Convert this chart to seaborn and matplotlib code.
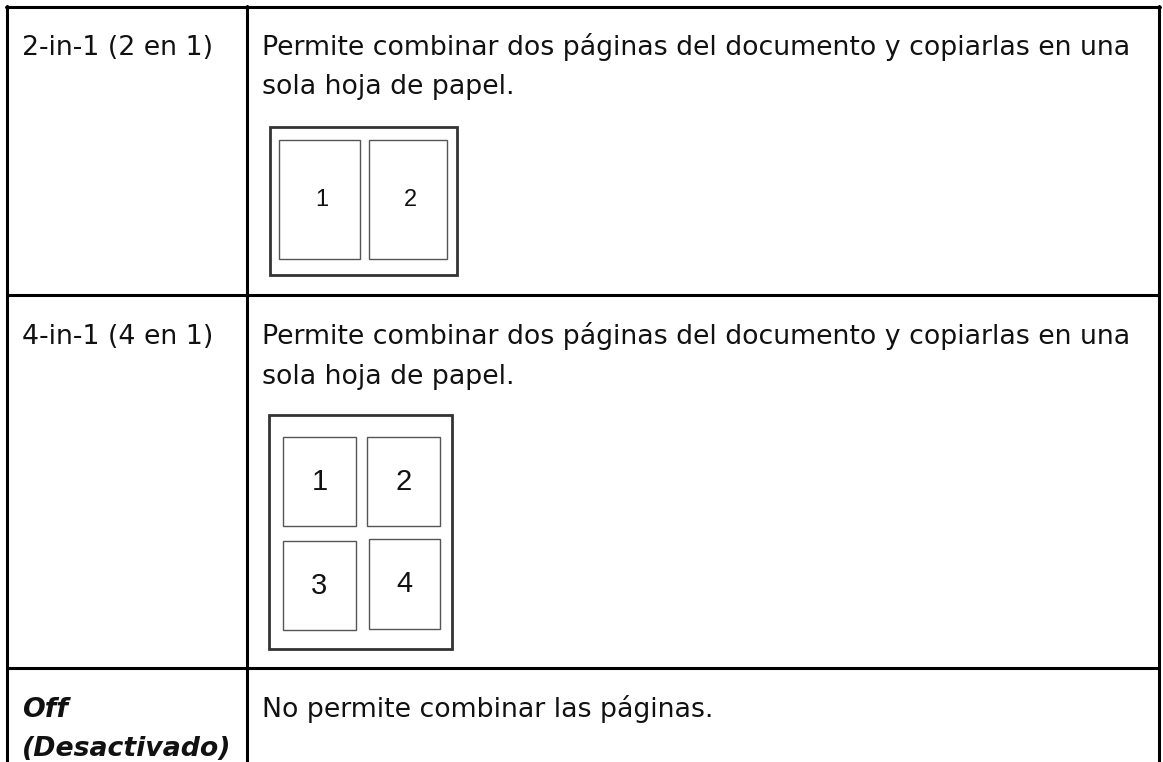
import matplotlib
matplotlib.use("Agg")
import matplotlib.pyplot as plt
import seaborn as sns
from matplotlib.patches import Rectangle

sns.set_theme(style="white")
plt.rcParams['font.family'] = ['DejaVu Sans']

# ---- data ----
options = [["2-in-1 (2 en 1)"], ["4-in-1 (4 en 1)"], ["Off", "(Desactivado)"]]
descriptions = [
    ["Permite combinar dos páginas del documento y copiarlas en una", "sola hoja de papel."],
    ["Permite combinar dos páginas del documento y copiarlas en una", "sola hoja de papel."],
    ["No permite combinar las páginas."],
]
option_styles = ["normal", "normal", "bold-italic"]
page_labels_2in1 = ["1", "2"]
page_labels_4in1 = ["1", "2", "3", "4"]

W, H = 1163, 762
fig = plt.figure(figsize=(W / 100, H / 100), dpi=100)
ax = fig.add_axes([0, 0, 1, 1])
ax.set_xlim(0, W)
ax.set_ylim(H, 0)
ax.axis("off")

# table grid
left, right, top = 7, 1159, 7
col_div = 247
row_divs = [295, 668]
lw = 2.2
ax.plot([left - 1, right + 1], [top, top], color="black", lw=lw)
for y in row_divs:
    ax.plot([left, right], [y, y], color="black", lw=lw)
for x in [left, col_div, right]:
    ax.plot([x, x], [top - 1, H + 5], color="black", lw=lw)

row_tops = [top - 1, row_divs[0], row_divs[1]]
fs = 19.3
line_gap = 39.5
for i, (opt, desc, st) in enumerate(zip(options, descriptions, option_styles)):
    base = row_tops[i] + 49
    kw = {}
    if st == "bold-italic":
        kw = dict(fontweight="bold", fontstyle="italic")
    for j, line in enumerate(opt):
        ax.text(22, base + j * line_gap, line, fontsize=fs, va="baseline",
                ha="left", color="#111111", **kw)
    for j, line in enumerate(desc):
        ax.text(262, base + j * line_gap, line, fontsize=fs, va="baseline",
                ha="left", color="#111111")

# 2-in-1 diagram
ax.add_patch(Rectangle((270, 127), 187, 148, fill=False, ec="#333333", lw=2))
pages2 = [(279, 140, 81, 119), (369, 140, 78, 119)]
for (x, y, w, h), lab in zip(pages2, page_labels_2in1):
    ax.add_patch(Rectangle((x, y), w, h, fill=False, ec="#555555", lw=1))
    ax.text(x + w / 2 + 2, y + h / 2, lab, fontsize=17, ha="center", va="center",
            family="Liberation Sans", color="#111111")

# 4-in-1 diagram
ax.add_patch(Rectangle((269, 415), 183, 234, fill=False, ec="#333333", lw=2))
pages4 = [(283, 437, 73, 89), (367, 437, 73, 89),
          (283, 541, 73, 89), (369, 539, 71, 90)]
for (x, y, w, h), lab in zip(pages4, page_labels_4in1):
    ax.add_patch(Rectangle((x, y), w, h, fill=False, ec="#555555", lw=1))
    ax.text(x + w / 2, y + h / 2, lab, fontsize=21, ha="center", va="center",
            family="Liberation Sans", color="#111111")

fig.savefig("out.png", dpi=100)
